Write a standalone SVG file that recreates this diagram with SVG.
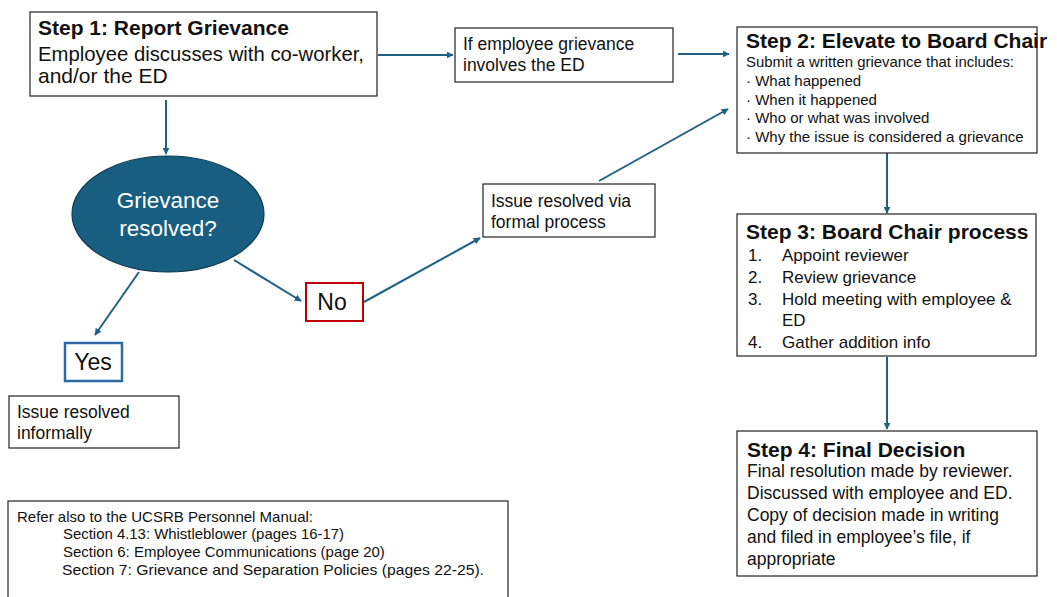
<svg xmlns="http://www.w3.org/2000/svg" width="1057" height="597" viewBox="0 0 1057 597">
<defs>
<marker id="ah" viewBox="0 0 10 10" refX="9" refY="5" markerWidth="7" markerHeight="7" orient="auto" markerUnits="userSpaceOnUse">
<path d="M0,0 L10,5 L0,10 z" fill="#1d6184"/>
</marker>
<style>
.box{fill:#fff;stroke:#222;stroke-width:1.2}
.t{font-family:"Liberation Sans",Arial,sans-serif;fill:#111}
.b{font-weight:bold}
.w{fill:#fff}
.c{stroke:#1d6184;stroke-width:2;fill:none;marker-end:url(#ah)}
</style>
</defs>
<rect width="1057" height="597" fill="#fff"/>
<g id="connectors">
<line class="c" x1="166" y1="100" x2="166" y2="154"/>
<line class="c" x1="378" y1="55" x2="453" y2="55"/>
<line class="c" x1="678" y1="54" x2="729" y2="54"/>
<line class="c" x1="234" y1="260" x2="301" y2="301"/>
<line class="c" x1="139" y1="272" x2="95" y2="335"/>
<line class="c" x1="364" y1="302" x2="480" y2="238"/>
<line class="c" x1="599" y1="181" x2="728" y2="109"/>
<line class="c" x1="887" y1="153" x2="887" y2="213"/>
<line class="c" x1="887" y1="357" x2="887" y2="429"/>
</g>
<g id="step1">
<rect class="box" x="30" y="12" width="347" height="84"/>
<text class="t b" x="38" y="35" font-size="21">Step 1: Report Grievance</text>
<text class="t" x="38" y="61" font-size="21" textLength="326" lengthAdjust="spacingAndGlyphs">Employee discusses with co-worker,</text>
<text class="t" x="38" y="83" font-size="21">and/or the ED</text>
</g>
<g id="involves-ed">
<rect class="box" x="455" y="28" width="218" height="54"/>
<text class="t" x="463" y="50" font-size="17.5">If employee grievance</text>
<text class="t" x="463" y="71" font-size="17.5">involves the ED</text>
</g>
<g id="step2">
<rect class="box" x="737" y="27" width="300" height="126"/>
<text class="t b" x="746" y="48" font-size="21">Step 2: Elevate to Board Chair</text>
<text class="t" x="746" y="67" font-size="15" textLength="268" lengthAdjust="spacingAndGlyphs">Submit a written grievance that includes:</text>
<text class="t" x="746" y="86" font-size="15">· What happened</text>
<text class="t" x="746" y="105" font-size="15">· When it happened</text>
<text class="t" x="746" y="123" font-size="15">· Who or what was involved</text>
<text class="t" x="746" y="142" font-size="15">· Why the issue is considered a grievance</text>
</g>
<g id="decision">
<ellipse cx="168" cy="214" rx="96" ry="58" fill="#175e80" stroke="#0e3a50" stroke-width="1.2"/>
<text class="t w" x="168" y="208" font-size="22.5" text-anchor="middle">Grievance</text>
<text class="t w" x="168" y="236" font-size="22.5" text-anchor="middle">resolved?</text>
</g>
<g id="formal">
<rect class="box" x="483" y="184" width="172" height="53"/>
<text class="t" x="491" y="207" font-size="17.5">Issue resolved via</text>
<text class="t" x="491" y="228" font-size="17.5">formal process</text>
</g>
<g id="no">
<rect x="306" y="283" width="57" height="38" fill="#fff" stroke="#c00000" stroke-width="2"/>
<text class="t" x="332" y="310" font-size="23" text-anchor="middle">No</text>
</g>
<g id="yes">
<rect x="65" y="343" width="57" height="38" fill="#fff" stroke="#2e6aa6" stroke-width="2.5"/>
<text class="t" x="93" y="370" font-size="23" text-anchor="middle">Yes</text>
</g>
<g id="informal">
<rect class="box" x="9" y="396" width="170" height="52"/>
<text class="t" x="17" y="418" font-size="17.5">Issue resolved</text>
<text class="t" x="17" y="439" font-size="17.5">informally</text>
</g>
<g id="step3">
<rect class="box" x="737" y="214" width="299" height="142"/>
<text class="t b" x="746" y="239" font-size="21">Step 3: Board Chair process</text>
<text class="t" x="748" y="261" font-size="17">1.</text><text class="t" x="782" y="261" font-size="17">Appoint reviewer</text>
<text class="t" x="748" y="283" font-size="17">2.</text><text class="t" x="782" y="283" font-size="17">Review grievance</text>
<text class="t" x="748" y="305" font-size="17">3.</text><text class="t" x="782" y="305" font-size="17">Hold meeting with employee &amp;</text>
<text class="t" x="782" y="326" font-size="17">ED</text>
<text class="t" x="748" y="348" font-size="17">4.</text><text class="t" x="782" y="348" font-size="17">Gather addition info</text>
</g>
<g id="step4">
<rect class="box" x="737" y="431" width="300" height="145"/>
<text class="t b" x="747" y="457" font-size="21">Step 4: Final Decision</text>
<text class="t" x="747" y="477" font-size="17.5">Final resolution made by reviewer.</text>
<text class="t" x="747" y="499" font-size="17.5">Discussed with employee and ED.</text>
<text class="t" x="747" y="521" font-size="17.5">Copy of decision made in writing</text>
<text class="t" x="747" y="543" font-size="17.5">and filed in employee’s file, if</text>
<text class="t" x="747" y="565" font-size="17.5">appropriate</text>
</g>
<g id="refer">
<rect class="box" x="8" y="501" width="500" height="100"/>
<text class="t" x="17" y="522" font-size="15">Refer also to the UCSRB Personnel Manual:</text>
<text class="t" x="63" y="539" font-size="15" textLength="281" lengthAdjust="spacingAndGlyphs">Section 4.13: Whistleblower (pages 16-17)</text>
<text class="t" x="63" y="557" font-size="15">Section 6: Employee Communications (page 20)</text>
<text class="t" x="62" y="575" font-size="15" textLength="422" lengthAdjust="spacingAndGlyphs">Section 7: Grievance and Separation Policies (pages 22-25).</text>
</g>
</svg>
